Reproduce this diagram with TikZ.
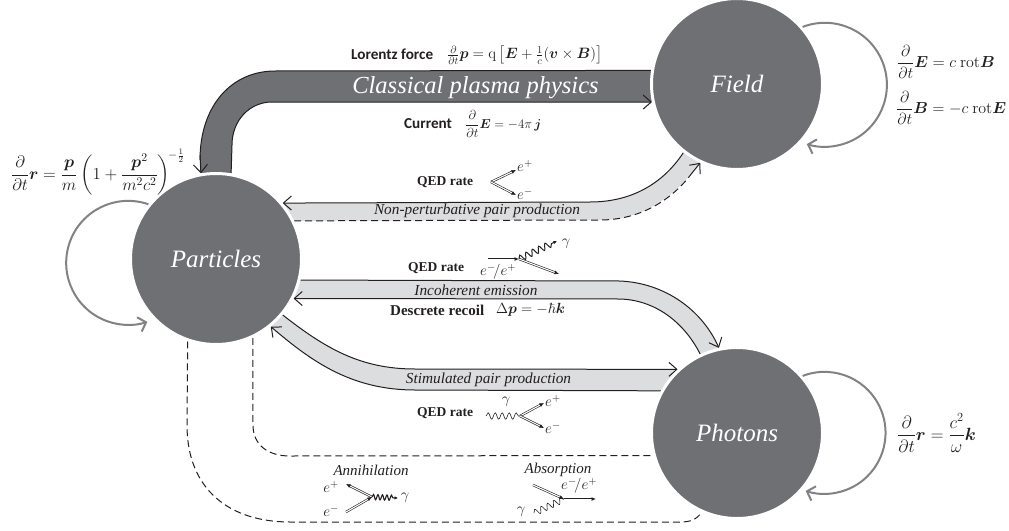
\RequirePackage{fix-cm}
\documentclass[tikz,border=0pt]{standalone}
\usepackage{amsmath,amssymb,bm}
\usepackage[no-math]{fontspec}
\setmainfont{Liberation Serif}
\newfontfamily\carl{Carlito}
\usetikzlibrary{arrows.meta,backgrounds,decorations.pathmorphing,decorations.markings}
\definecolor{dk}{HTML}{6F7074}
\definecolor{lt}{HTML}{DCDDDF}
\definecolor{lp}{HTML}{808285}
\definecolor{ink}{HTML}{231F20}
\newcommand{\fsz}[1]{\fontsize{#1}{#1}\selectfont}
\newcommand{\bv}[1]{\boldsymbol{#1}}
\tikzset{
  x=1pt,y=-1pt,
  hub/.style={circle,fill=dk,draw=white,line width=3pt,minimum size=171pt,inner sep=0pt,text=white,font=\fsz{25}\itshape},
  edgeline/.style={draw=ink,line width=1pt},
  arrowed/.style={-{Straight Barb[length=8pt,width=14pt,line width=1pt]}},
  dashline/.style={edgeline,dash pattern=on 7pt off 4pt},
  selfloop/.style={draw=lp,line width=2pt,-{Straight Barb[length=7pt,width=15pt,line width=2pt]}},
  lab/.style={inner sep=0pt,text=ink},
  proc/.style={lab,font=\fsz{15.3}\itshape},
  qed/.style={lab,font=\fsz{13.5}\bfseries},
  sansb/.style={lab,font=\carl\fsz{15.2}\bfseries},
  eqn/.style={lab,font=\fsz{16}},
  ptlab/.style={lab,font=\fsz{15}},
  dbl/.style={draw=ink,double=white,double distance=1.1pt,line width=.6pt,-{Latex[length=4.5pt,width=4pt]}},
  dblflat/.style={dbl,double distance=.9pt,line width=.9pt},
  wave/.style={draw=ink,line width=.7pt,-{Latex[length=3.5pt,width=3.5pt]},decorate,decoration={snake,segment length=7pt,amplitude=3.2pt,post length=3pt}},
  plainwave/.style={draw=ink,line width=.6pt,decorate,decoration={snake,segment length=7pt,amplitude=3.2pt}},
}
\begin{document}
\begin{tikzpicture}
\useasboundingbox (0,0) rectangle (1009,530);
% hubs
\node[hub] (field) at (737,84) {\raisebox{-3pt}{Field}};
\node[hub] (particles) at (216,259) {\raisebox{-2pt}{Particles}};
\node[hub] (photons) at (737,433) {\raisebox{-2pt}{Photons}};
% bands
\begin{scope}[on background layer]
  % classical
  \fill[dk] (field.171) -- (275,71) .. controls (232,71) and (200,105) .. (200,160) -- (particles.100)
    -- (particles.80) -- (232,145) .. controls (232,120) and (250,102) .. (272,102) -- (field.192) -- cycle;
  \draw[edgeline] (field.171) -- (275,71) .. controls (232,71) and (200,105) .. (200,160);
  \draw[edgeline,arrowed] (200,155) -- (particles.100);
  \draw[edgeline,arrowed] (232,145) .. controls (232,120) and (250,102) .. (272,102) -- (field.192);
  \draw[edgeline] (232,145) -- (particles.80);
  % non-perturbative
  \fill[lt] (particles.40) -- (590,202) .. controls (630,202) and (662,185) .. (field.232)
    -- (field.245) .. controls (672,200) and (640,220) .. (600,220) -- (particles.26) -- cycle;
  \draw[edgeline,arrowed] (field.232) .. controls (662,185) and (630,202) .. (590,202) -- (particles.40);
  \draw[dashline] (particles.26) -- (600,220) .. controls (640,220) and (672,200) .. (692,173);
  \draw[edgeline,arrowed] (692,173) -- (field.245);
  % incoherent
  \fill[lt] (particles.-14) -- (620,281) .. controls (665,283) and (702,310) .. (photons.102)
    -- (photons.115) .. controls (684,322) and (655,300) .. (620,299) -- (particles.-27) -- cycle;
  \draw[edgeline,arrowed] (particles.-14) -- (620,281) .. controls (665,283) and (702,310) .. (photons.102);
  \draw[edgeline,arrowed] (photons.115) .. controls (684,322) and (655,300) .. (620,299) -- (particles.-27);
  % stimulated
  \fill[lt] (particles.-40) .. controls (325,348) and (360,369) .. (415,369) -- (photons.133)
    -- (photons.151) -- (415,390) .. controls (350,390) and (310,360) .. (particles.-51) -- cycle;
  \draw[edgeline,arrowed] (particles.-40) .. controls (325,348) and (360,369) .. (415,369) -- (photons.133);
  \draw[edgeline,arrowed] (photons.151) -- (415,390) .. controls (350,390) and (310,360) .. (particles.-51);
  % dashed
  \draw[dashline] (particles.-65) -- (253,425) .. controls (253,445) and (268,456) .. (290,456) -- (photons.195);
  \draw[dashline] (particles.-109) -- (187,425) .. controls (187,490) and (230,522) .. (290,522) -- (680,522) .. controls (690,522) and (696,520) .. (photons.-114);
\end{scope}
% self loops
\draw[selfloop] (particles.141) arc[start angle=71,end angle=288,radius=62pt];
\draw[selfloop] (field.41) arc[start angle=111,end angle=-107,radius=62pt];
\draw[selfloop] (photons.41) arc[start angle=111,end angle=-108,radius=61pt];
% band labels
\node[inner sep=0pt,text=white,font=\fsz{24.5}\itshape] (cpp) at (475.5,88) {Classical plasma physics};
\node[proc] (np) at (477,211) {Non-perturbative pair production};
\node[proc] (ie) at (476,290) {Incoherent emission};
\node[proc] (sp) at (488.5,380) {Stimulated pair production};
% equations
\node[sansb,anchor=west] (lf) at (351,54) {Lorentz force};
\node[lab,anchor=west,font=\fsz{15}] (lfeq) at (447,55) {$\frac{\partial}{\partial t}\bv{p}=\mathrm{q}\left[\bv{E}+\frac{1}{c}(\bv{v}\times\bv{B})\right]$};
\node[sansb,anchor=west] (cu) at (404,124) {Current};
\node[lab,anchor=west,font=\fsz{13}] (cueq) at (465,124) {$\dfrac{\partial}{\partial t}\bv{E}=-4\pi\,\bv{j}$};
\node[lab,anchor=west,font=\fsz{16.8}] (ploop) at (11,172) {$\dfrac{\partial}{\partial t}\bv{r}=\dfrac{\bv{p}}{m}\left(1+\dfrac{\bv{p}^2}{m^2c^2}\right)^{\!-\frac{1}{2}}$};
\node[eqn,anchor=west] (feq1) at (897,62) {$\dfrac{\partial}{\partial t}\bv{E}=c\ \mathrm{rot}\bv{B}$};
\node[eqn,anchor=west] (feq2) at (896,108) {$\dfrac{\partial}{\partial t}\bv{B}=-c\ \mathrm{rot}\bv{E}$};
\node[lab,anchor=west,font=\fsz{17.7}] (pheq) at (897,433) {$\dfrac{\partial}{\partial t}\bv{r}=\dfrac{c^2}{\omega}\bv{k}$};
% QED rate: pair production
\node[qed,anchor=west] (q1) at (417,182) {QED rate};
\coordinate (v1) at (491,182);
\node[ptlab,anchor=west] (ep1) at (517,166) {$e^+$};
\node[ptlab,anchor=west] (em1) at (517,194) {$e^-$};
\draw[dbl] (v1) -- (516,170);
\draw[dbl] (v1) -- (516,195);
% QED rate: emission
\node[qed,anchor=west] (q2) at (408,268) {QED rate};
\coordinate (a2) at (488,259);
\coordinate (v2) at (519,259);
\coordinate (b2) at (559,274);
\coordinate (g2) at (557,241);
\node[ptlab] (gl2) at (566,244) {$\gamma$};
\node[ptlab,anchor=west] (el2) at (480,272) {$e^-\!/e^+$};
\draw[dblflat] (a2) -- (v2);
\draw[dbl] (v2) -- (b2);
\draw[wave,line width=1pt] (v2) -- (g2);
\node[lab,anchor=west,font=\fsz{15}\bfseries] (dr) at (390,310) {Descrete recoil};
\node[lab,anchor=west,font=\fsz{14.7}] (dreq) at (496,310) {$\Delta\bv{p}=-\hbar\bv{k}$};
% QED rate: stimulated
\node[qed,anchor=west] (q3) at (417,413) {QED rate};
\coordinate (s3) at (486,416);
\coordinate (v3) at (520,416);
\node[ptlab] (g3) at (506,402) {$\gamma$};
\node[ptlab,anchor=west] (ep3) at (545,401) {$e^+$};
\node[ptlab,anchor=west] (em3) at (545,428) {$e^-$};
\draw[plainwave] (s3) -- (v3);
\draw[dbl] (v3) -- (544,403);
\draw[dbl] (v3) -- (544,428);
% annihilation
\node[lab,font=\fsz{15}\itshape] (an) at (371,470) {Annihilation};
\coordinate (v4) at (372,497);
\node[ptlab] (ep4) at (331,487) {$e^+$};
\node[ptlab] (em4) at (331,511) {$e^-$};
\node[ptlab] (g4) at (405,498) {$\gamma$};
\draw[dbl] (v4) -- (346,484);
\draw[dbl] (346,512) -- (v4);
\draw[wave,line width=1.1pt,decoration={snake,segment length=4.5pt,amplitude=2.6pt,post length=3pt}] (v4) -- (398,498);
% absorption
\node[lab,font=\fsz{15}\itshape] (ab) at (558,470) {Absorption};
\coordinate (v5) at (564,499);
\node[ptlab] (gl5) at (521,512) {$\gamma$};
\node[ptlab,anchor=west] (el5) at (561,486) {$e^-\!/e^+$};
\draw[dbl] (533,485) -- (v5);
\draw[plainwave] (534,513) -- (v5);
\draw[dblflat] (v5) -- (596,499);
\end{tikzpicture}
\end{document}
